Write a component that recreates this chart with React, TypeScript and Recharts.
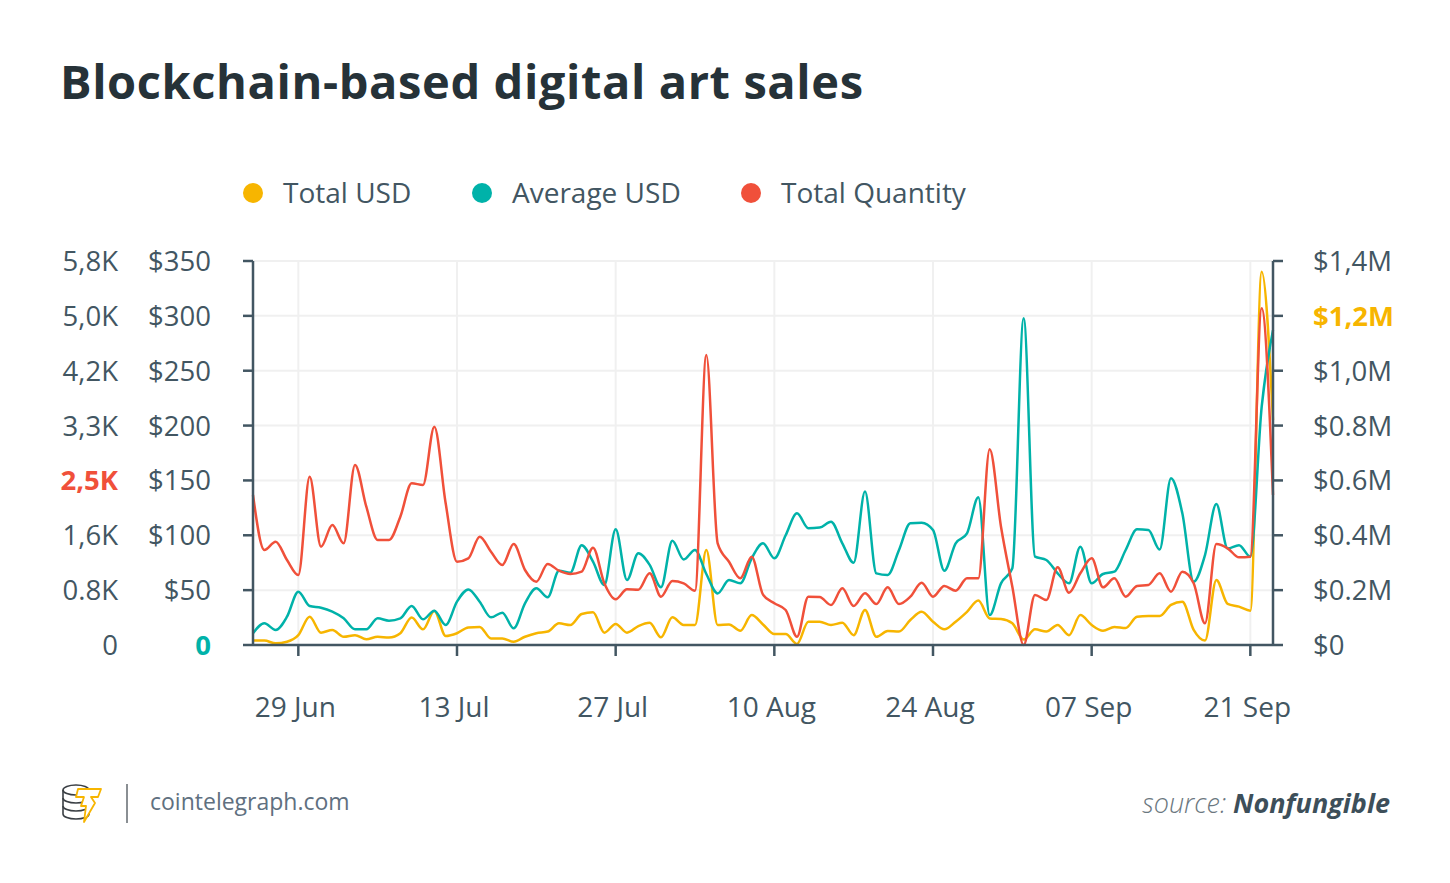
import React from 'react';
import { LineChart, Line, XAxis, YAxis, CartesianGrid } from 'recharts';

// ---- data (daily, starting 25 Jun) ----
const totalUsdK = [
  16, 16, 6, 12, 36, 103, 45, 55, 30, 36, 21, 30, 27, 43, 100, 57, 124, 33, 43, 64,
  66, 24, 24, 12, 30, 43, 49, 79, 73, 113, 119, 45, 77, 45, 69, 81, 28, 101, 73, 73,
  346, 73, 75, 52, 109, 75, 40, 40, 4, 85, 85, 73, 81, 36, 128, 30, 51, 49, 91, 121,
  85, 57, 85, 121, 162, 97, 95, 79, 20, 57, 49, 73, 36, 109, 73, 52, 66, 62, 103, 106,
  106, 146, 158, 55, 16, 237, 150, 140, 125, 1361, 820,
];
const averageUsd = [
  10.6, 19.8, 13.7, 25.8, 48.6, 35.5, 34, 30.4, 24.3, 14.3, 14.3, 24.3, 22.2, 24.3, 35.5, 23.4, 31.3, 18.2, 39.5, 50.7,
  39.5, 25.2, 29.5, 15.2, 38, 51.7, 43.5, 67.7, 65.9, 91, 76, 54.7, 105.4, 59.2, 83.6, 73, 52.6, 95, 78, 86.6,
  64.7, 47, 59.2, 56.2, 79, 92.7, 79, 100, 120, 106.4, 107, 112.4, 92.7, 75, 139.8, 65.3, 63.8, 86.6, 111, 111.5,
  104.8, 67.7, 92.7, 101.8, 134.6, 27.3, 56.2, 70, 297.8, 80.5, 77.5, 65.3, 56.2, 89.6, 56.2, 64.7, 66.8, 86.6, 105.4, 104.8,
  87, 152, 120, 57.7, 82, 128.5, 88, 91, 80.5, 217, 287,
];
const totalQuantity = [
  2266, 1435, 1560, 1284, 1057, 2542, 1485, 1812, 1536, 2719, 2089, 1586, 1586, 1938, 2442, 2417, 3297, 2140, 1258, 1309,
  1636, 1409, 1208, 1525, 1133, 956, 1223, 1122, 1072, 1108, 1470, 932, 690, 841, 836, 1083, 730, 967, 932, 820,
  4380, 1536, 1258, 1007, 1334, 760, 630, 529, 125, 730, 725, 604, 856, 589, 781, 619, 871, 619, 730, 941,
  730, 891, 820, 1007, 1007, 2956, 1787, 881, 0, 755, 680, 1173, 790, 1083, 1309, 871, 1007, 730, 891, 906,
  1083, 805, 1108, 932, 327, 1525, 1460, 1324, 1334, 5085, 2266,
];

// ---- axis ticks ----
const xTickDays = [4, 18, 32, 46, 60, 74, 88];
const xTickLabels = ['29 Jun', '13 Jul', '27 Jul', '10 Aug', '24 Aug', '07 Sep', '21 Sep'];
const avgTicks = [0, 50, 100, 150, 200, 250, 300, 350];
const avgTickLabels = ['0', '$50', '$100', '$150', '$200', '$250', '$300', '$350'];
const qtyTickLabels = ['0', '0.8K', '1,6K', '2,5K', '3,3K', '4,2K', '5,0K', '5,8K'];
const totalTicks = [0, 200000, 400000, 600000, 800000, 1000000, 1200000, 1400000];
const totalTickLabels = ['$0', '$0.2M', '$0.4M', '$0.6M', '$0.8M', '$1,0M', '$1,2M', '$1,4M'];

const YELLOW = '#f7b500';
const TEAL = '#00b2a9';
const RED = '#f0503a';
const AXIS = '#425662';
const TEXT = '#425662';
const TITLE = '#263238';
const GRID = '#f0f0f0';
const FONT = '"Open Sans", sans-serif';

const series = [
  { key: 'totalUsd', name: 'Total USD', color: YELLOW, axis: 'total' },
  { key: 'avgUsd', name: 'Average USD', color: TEAL, axis: 'avg' },
  { key: 'qty', name: 'Total Quantity', color: RED, axis: 'qty' },
];

const rows = totalQuantity.map((q, i) => ({
  day: i,
  totalUsd: totalUsdK[i] * 1000,
  avgUsd: averageUsd[i],
  qty: q,
}));

const Y_FS = 27.5;

const LeftTick = (props: any) => {
  const { x, y, index } = props;
  const qtyHi = index === 3;
  const avgHi = index === 0;
  return (
    <g>
      <text
        x={x - 93}
        y={y + 10}
        textAnchor="end"
        fontFamily={FONT}
        fontSize={Y_FS}
        fontWeight={qtyHi ? 700 : 400}
        fill={qtyHi ? RED : TEXT}
      >
        {qtyTickLabels[index]}
      </text>
      <text
        x={x}
        y={y + 10}
        textAnchor="end"
        fontFamily={FONT}
        fontSize={Y_FS}
        fontWeight={avgHi ? 700 : 400}
        fill={avgHi ? TEAL : TEXT}
      >
        {avgTickLabels[index]}
      </text>
    </g>
  );
};

const RightTick = (props: any) => {
  const { x, y, index } = props;
  const hi = index === 6;
  return (
    <text
      x={x}
      y={y + 10}
      textAnchor="start"
      fontFamily={FONT}
      fontSize={Y_FS}
      fontWeight={hi ? 700 : 400}
      fill={hi ? YELLOW : TEXT}
    >
      {totalTickLabels[index]}
    </text>
  );
};

const BottomTick = (props: any) => {
  const { x, y, index } = props;
  return (
    <text x={x - 3} y={y + 59} textAnchor="middle" fontFamily={FONT} fontSize={28} fill={TEXT}>
      {xTickLabels[index]}
    </text>
  );
};

const legendX = [253, 482, 751];

export default function App() {
  return (
    <div
      style={{
        position: 'absolute',
        left: 0,
        top: 0,
        width: 1450,
        height: 883,
        background: '#ffffff',
        fontFamily: FONT,
        overflow: 'hidden',
      }}
    >
      <svg width={1450} height={883} style={{ position: 'absolute', left: 0, top: 0 }}>
        <text
          x={60}
          y={99}
          fontFamily={FONT}
          fontSize={47}
          fontWeight={700}
          letterSpacing={0.6}
          fill={TITLE}
        >
          Blockchain-based digital art sales
        </text>
        {series.map((s, i) => (
          <g key={s.key}>
            <circle cx={legendX[i]} cy={193} r={10} fill={s.color} />
            <text x={legendX[i] + 30} y={203} fontFamily={FONT} fontSize={28} fill={TEXT}>
              {s.name}
            </text>
          </g>
        ))}
        {/* footer logo */}
        <g fill="none" stroke="#3a3f44" strokeWidth={1.6}>
          <ellipse cx={76} cy={790} rx={13} ry={5} />
          <path d="M63 790 v8 a13 5 0 0 0 26 0" />
          <path d="M63 798 v8 a13 5 0 0 0 26 0" />
          <path d="M63 806 v8 a13 5 0 0 0 26 0 v-24" />
        </g>
        <path
          d="M78 789 L101 789 L98 797 L91 797 L95 803 L84 822 L86 806 L81 806 L84 797 L76 797 Z"
          fill="#ffffff"
          stroke="#f7b500"
          strokeWidth={1.8}
          strokeLinejoin="round"
        />
        <line x1={127} y1={784} x2={127} y2={823} stroke="#8a8f93" strokeWidth={2} />
        <text x={150} y={810} fontFamily={FONT} fontSize={23} fill="#607080">
          cointelegraph.com
        </text>
        <text x={1390} y={813} textAnchor="end" fontFamily={FONT} fontSize={27} fontStyle="italic">
          <tspan fill="#6b7780" fontWeight={300}>source: </tspan>
          <tspan fill="#3d4f5a" fontWeight={700}>Nonfungible</tspan>
        </text>
      </svg>
      <div style={{ position: 'absolute', left: 0, top: 0 }}>
        <LineChart
          width={1450}
          height={883}
          data={rows}
          margin={{ top: 261, right: 0, bottom: 138, left: 0 }}
        >
          <CartesianGrid yAxisId="avg" stroke={GRID} strokeWidth={2} />
          <XAxis
            dataKey="day"
            type="number"
            domain={[0, 90]}
            ticks={xTickDays}
            height={100}
            tickSize={11}
            tickMargin={2}
            axisLine={{ stroke: AXIS, strokeWidth: 2.5 }}
            tickLine={{ stroke: AXIS, strokeWidth: 2.5 }}
            tick={<BottomTick />}
            interval={0}
          />
          <YAxis
            yAxisId="avg"
            orientation="left"
            domain={[0, 350]}
            ticks={avgTicks}
            width={253}
            tickSize={10}
            tickMargin={32}
            axisLine={{ stroke: AXIS, strokeWidth: 2.5 }}
            tickLine={{ stroke: AXIS, strokeWidth: 2.5 }}
            tick={<LeftTick />}
            interval={0}
          />
          <YAxis yAxisId="qty" hide domain={[0, 5800]} />
          <YAxis
            yAxisId="total"
            orientation="right"
            domain={[0, 1400000]}
            ticks={totalTicks}
            width={177}
            tickSize={10}
            tickMargin={30}
            axisLine={{ stroke: AXIS, strokeWidth: 2.5 }}
            tickLine={{ stroke: AXIS, strokeWidth: 2.5 }}
            tick={<RightTick />}
            interval={0}
          />
          {series.map((s) => (
            <Line
              key={s.key}
              yAxisId={s.axis}
              dataKey={s.key}
              name={s.name}
              type="monotone"
              stroke={s.color}
              strokeWidth={2.5}
              dot={false}
              activeDot={false}
              isAnimationActive={false}
            />
          ))}
        </LineChart>
      </div>
    </div>
  );
}
